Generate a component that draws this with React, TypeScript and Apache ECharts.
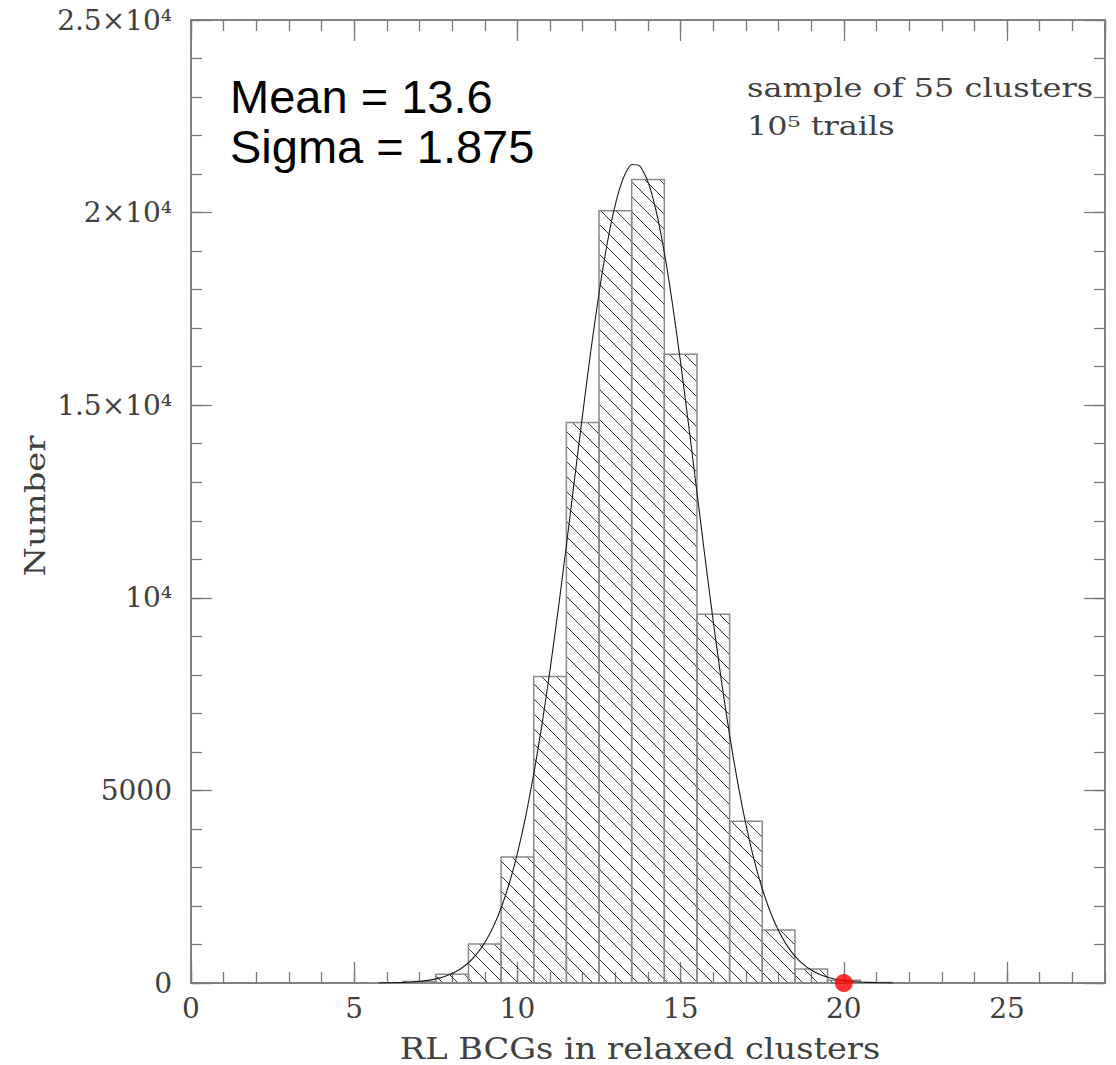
import React, { useEffect, useRef } from "react";
import * as echarts from "echarts";

// Histogram bins (centres) and counts
const binCenters = [6, 7, 8, 9, 10, 11, 12, 13, 14, 15, 16, 17, 18, 19, 20, 21];
const binCounts = [5, 40, 230, 1010, 3270, 7960, 14550, 20050, 20860, 16320, 9570, 4200, 1375, 365, 70, 10];

const curveX = [
  5.75, 6, 6.25, 6.5, 6.75, 7, 7.25, 7.5, 7.75, 8, 8.25, 8.5, 8.75, 9, 9.25, 9.5, 9.75, 10, 10.25, 10.5, 10.75,
  11, 11.25, 11.5, 11.75, 12, 12.25, 12.5, 12.75, 13, 13.25, 13.5, 13.75, 14, 14.25, 14.5, 14.75, 15, 15.25, 15.5,
  15.75, 16, 16.25, 16.5, 16.75, 17, 17.25, 17.5, 17.75, 18, 18.25, 18.5, 18.75, 19, 19.25, 19.5, 19.75, 20, 20.25,
  20.5, 20.75, 21, 21.25, 21.5,
];
const curveY = [
  3, 6, 10, 16, 27, 43, 69, 107, 164, 246, 363, 526, 750, 1050, 1443, 1948, 2585, 3368, 4313, 5424, 6702,
  8137, 9703, 11364, 13077, 14783, 16420, 17913, 19198, 20215, 20909, 21247, 21209, 20798, 20037, 18962, 17628, 16100, 14447, 12734,
  11026, 9379, 7836, 6434, 5189, 4111, 3198, 2447, 1837, 1356, 982, 700, 489, 336, 227, 151, 98, 63, 40,
  24, 15, 9, 5, 3,
];

const observedPoint = [20, 0];

const xTickLabels = ["0", "5", "10", "15", "20", "25"];
const yTickLabels = ["0", "5000", "10⁴", "1.5×10⁴", "2×10⁴", "2.5×10⁴"];

const titleX = "RL BCGs in relaxed clusters";
const titleY = "Number";
const statLines = ["Mean = 13.6", "Sigma = 1.875"];
const noteLines = ["sample of 55 clusters", "10⁵ trails"];

const AXIS_COLOR = "#7a7a7a";
const TEXT_COLOR = "#404040";
const SERIF = '"DejaVu Serif", serif';

function makeAxis(gridIndex: number, position: string, isX: boolean, interval: number, tickLen: number, labels: string[] | null) {
  const base: any = {
    gridIndex,
    type: "value",
    position,
    min: 0,
    max: isX ? 28 : 25000,
    interval,
    splitLine: { show: false },
    axisLine: { show: true, onZero: false, lineStyle: { color: AXIS_COLOR, width: 1.5 } },
    axisTick: { show: true, inside: true, length: tickLen, lineStyle: { color: AXIS_COLOR, width: 1.3 } },
    axisLabel: { show: false },
  };
  if (labels) {
    base.axisLabel = {
      show: true,
      showMaxLabel: !isX,
      fontFamily: SERIF,
      fontSize: 28,
      color: TEXT_COLOR,
      margin: isX ? 11 : 19,
      formatter: (v: number) => {
        const idx = Math.round(v / interval);
        return Math.abs(idx * interval - v) < 1e-6 && labels[idx] !== undefined ? labels[idx] : "";
      },
    };
  }
  return base;
}

export default function App() {
  const ref = useRef<HTMLDivElement>(null);

  useEffect(() => {
    if (!ref.current) return;
    const chart = echarts.init(ref.current, undefined, { renderer: "svg" });
    const gridRect = { left: 191, top: 20, right: 11, bottom: 82 };

    const histData = binCenters.map((c, i) => [c, binCounts[i]]);
    const curveData = curveX.map((x, i) => [x, curveY[i]]);

    const option: any = {
      animation: false,
      backgroundColor: "#ffffff",
      grid: [
        { ...gridRect, containLabel: false },
        { ...gridRect, containLabel: false },
      ],
      xAxis: [
        makeAxis(0, "bottom", true, 1, 11, null),
        makeAxis(0, "top", true, 1, 11, null),
        makeAxis(1, "bottom", true, 5, 21, xTickLabels),
        makeAxis(1, "top", true, 5, 21, null),
      ],
      yAxis: [
        makeAxis(0, "left", false, 1000, 11, null),
        makeAxis(0, "right", false, 1000, 11, null),
        makeAxis(1, "left", false, 5000, 21, yTickLabels),
        makeAxis(1, "right", false, 5000, 21, null),
      ],
      series: [
        {
          type: "custom",
          xAxisIndex: 2,
          yAxisIndex: 2,
          data: histData,
          clip: false,
          z: 2,
          renderItem: (params: any, api: any) => {
            const x = api.value(0);
            const v = api.value(1);
            const p0 = api.coord([x - 0.5, 0]);
            const p1 = api.coord([x + 0.5, v]);
            const x0 = p0[0];
            const x1 = p1[0];
            const yT = p1[1];
            const yB = p0[1];
            const children: any[] = [];
            const step = 15;
            const bMin = Math.ceil((yT - x1) / step) * step;
            for (let b = bMin; b <= yB - x0; b += step) {
              const xs = Math.max(x0, yT - b);
              const xe = Math.min(x1, yB - b);
              if (xe > xs + 0.5) {
                children.push({
                  type: "line",
                  shape: { x1: xs, y1: xs + b, x2: xe, y2: xe + b },
                  style: { stroke: "#333333", lineWidth: 1 },
                });
              }
            }
            children.push({
              type: "rect",
              shape: { x: x0, y: yT, width: x1 - x0, height: yB - yT },
              style: { fill: "none", stroke: "#8a8a8a", lineWidth: 1.5 },
            });
            return { type: "group", children };
          },
        },
        {
          type: "line",
          xAxisIndex: 2,
          yAxisIndex: 2,
          data: curveData,
          smooth: 0.2,
          showSymbol: false,
          symbol: "none",
          lineStyle: { color: "#1a1a1a", width: 1.1 },
          z: 3,
        },
        {
          type: "scatter",
          xAxisIndex: 2,
          yAxisIndex: 2,
          data: [observedPoint],
          symbol: "circle",
          symbolSize: 18,
          itemStyle: { color: "#ff0000" },
          clip: false,
          z: 5,
        },
      ],
      graphic: [
        {
          type: "text",
          x: 230,
          y: 96,
          style: { text: statLines[0], fontFamily: '"Liberation Sans", Arial, sans-serif', fontSize: 47, fill: "#000", align: "left", verticalAlign: "middle" },
        },
        {
          type: "text",
          x: 230,
          y: 146,
          style: { text: statLines[1], fontFamily: '"Liberation Sans", Arial, sans-serif', fontSize: 47, fill: "#000", align: "left", verticalAlign: "middle" },
        },
        {
          type: "text",
          x: 747,
          y: 88,
          scaleX: 1.23,
          style: { text: noteLines[0], fontFamily: SERIF, fontSize: 26, fill: TEXT_COLOR, align: "left", verticalAlign: "middle" },
        },
        {
          type: "text",
          x: 747,
          y: 126,
          scaleX: 1.23,
          style: { text: noteLines[1], fontFamily: SERIF, fontSize: 26, fill: TEXT_COLOR, align: "left", verticalAlign: "middle" },
        },
        {
          type: "text",
          x: 640,
          y: 1049,
          scaleX: 1.16,
          style: { text: titleX, fontFamily: SERIF, fontSize: 29, lineHeight: 30, fill: TEXT_COLOR, align: "center", verticalAlign: "middle" },
        },
        {
          type: "text",
          x: 36,
          y: 506,
          rotation: Math.PI / 2,
          scaleX: 1.25,
          style: { text: titleY, fontFamily: SERIF, fontSize: 27, fill: TEXT_COLOR, align: "center", verticalAlign: "middle" },
        },
      ],
    };

    chart.setOption(option);
    return () => chart.dispose();
  }, []);

  return <div ref={ref} style={{ position: "absolute", left: 0, top: 0, width: 1116, height: 1065 }} />;
}
